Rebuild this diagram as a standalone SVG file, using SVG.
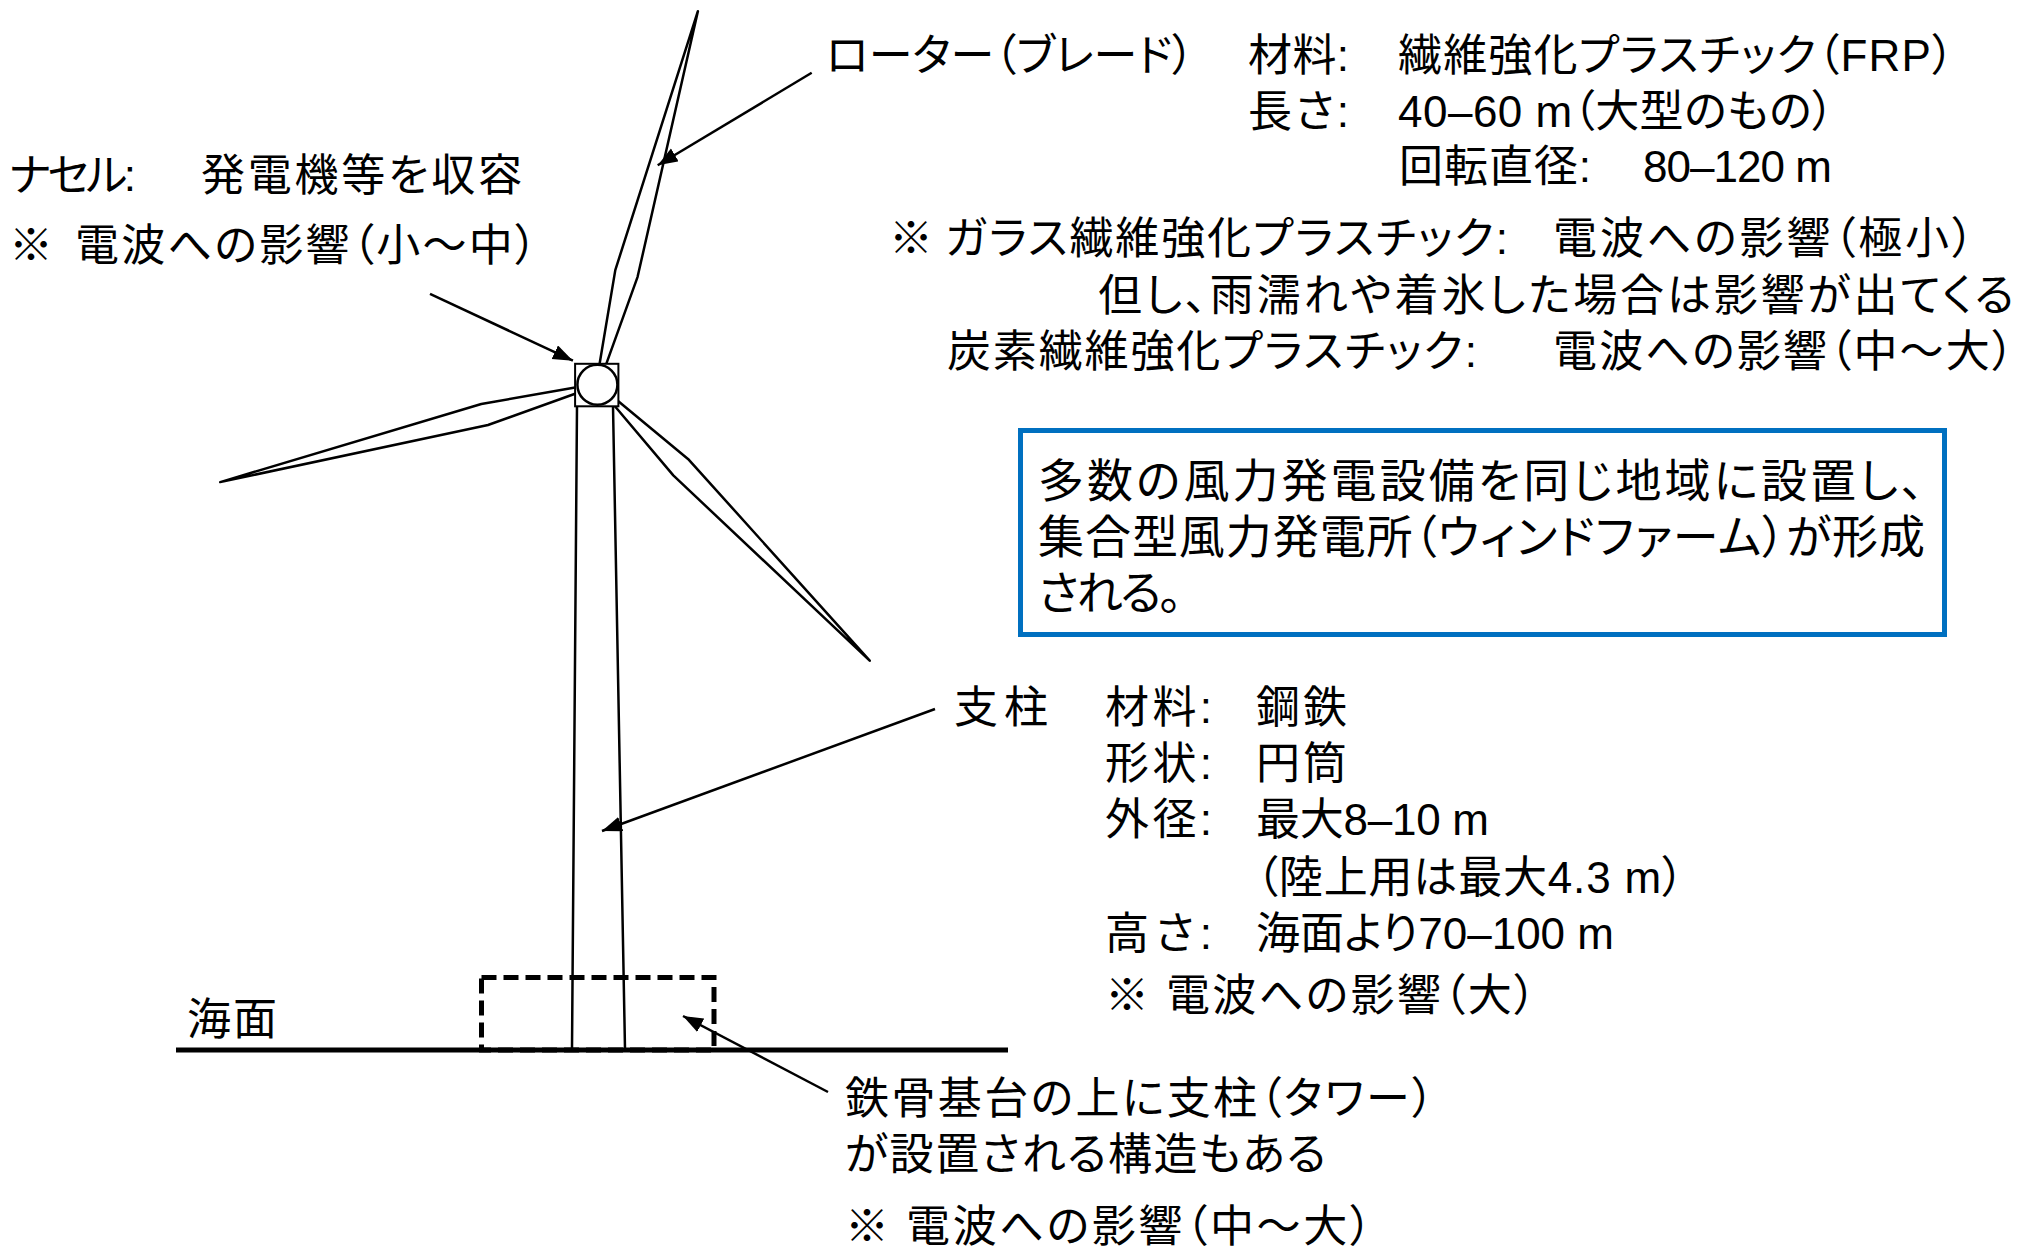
<svg xmlns="http://www.w3.org/2000/svg" width="2037" height="1254" viewBox="0 0 2037 1254">
  <defs>
    <style>
      .t { font-family: 'Liberation Sans', 'Noto Sans CJK JP', sans-serif; font-size: 44px; fill: #000; font-feature-settings: "palt"; }
      .tb { font-size: 46px; }
      .ln { fill: none; stroke: #000; stroke-width: 2.5; stroke-linejoin: round; }
      .arr { fill: none; stroke: #000; stroke-width: 2.5; marker-end: url(#head); }
    </style>
    <marker id="head" markerUnits="userSpaceOnUse" markerWidth="22" markerHeight="16" refX="20" refY="7.5" orient="auto">
      <path d="M0,0 L20,7.5 L0,15 Z" fill="#000"/>
    </marker>
  </defs>

  <rect width="2037" height="1254" fill="#fff"/>

  <!-- wind turbine -->
  <g id="turbine">
    <g id="tower">
      <path class="ln" d="M577,406 L572,1049 M613,406 L625,1049"/>
    </g>
    <g id="blades">
      <path class="ln" d="M599.6,363.8 L615.3,270.1 L697.9,11.2 L637.6,276.8 L606.3,363.8"/>
      <path class="ln" d="M575.1,387.5 L481.3,404 L220.2,482.1 L488,425 L575.1,393.8"/>
      <path class="ln" d="M615.3,398.7 L688.9,459.8 L869.7,660.7 L673.3,475.4 L613,404"/>
    </g>
    <g id="nacelle">
      <rect x="575.1" y="363.8" width="43.3" height="42.5" fill="#fff" stroke="#000" stroke-width="2"/>
      <circle cx="597.4" cy="384.8" r="20" fill="#fff" stroke="#000" stroke-width="2.5"/>
    </g>
  </g>

  <!-- steel foundation and sea surface -->
  <g id="foundation">
    <rect x="481.5" y="977.5" width="232.5" height="72.5" fill="none" stroke="#000" stroke-width="5" stroke-dasharray="15 7"/>
  </g>
  <g id="sea">
    <line x1="176" y1="1050" x2="1008" y2="1050" stroke="#000" stroke-width="5"/>
    <text class="t" x="187" y="1035" textLength="90">海面</text>
  </g>

  <!-- leader arrows -->
  <g id="connectors">
    <line class="arr" x1="430" y1="293.8" x2="572.9" y2="360.7"/>
    <line class="arr" x1="811.7" y1="72.8" x2="657.7" y2="165.2"/>
    <line class="arr" x1="935" y1="709" x2="602" y2="831"/>
    <line class="arr" x1="828" y1="1092" x2="683" y2="1016"/>
  </g>

  <!-- nacelle note -->
  <g id="nacelle-label">
    <text class="t" x="9" y="191" textLength="127">ナセル:</text>
    <text class="t" x="201" y="191" textLength="321">発電機等を収容</text>
    <text class="t" x="9" y="261">※</text>
    <text class="t" x="75" y="261" textLength="462">電波への影響（小～中）</text>
  </g>

  <!-- rotor note -->
  <g id="rotor-label">
    <text class="t" x="826" y="71" textLength="368">ローター（ブレード）</text>
    <text class="t" x="1248" y="71" textLength="101">材料:</text>
    <text class="t" x="1398" y="71" textLength="556">繊維強化プラスチック（FRP）</text>
    <text class="t" x="1248" y="127" textLength="101">長さ:</text>
    <text class="t" x="1398" y="127" textLength="436">40–60 m（大型のもの）</text>
    <text class="t" x="1399" y="182" textLength="192">回転直径:</text>
    <text class="t" x="1643" y="182" textLength="189">80–120 m</text>
    <text class="t" x="889" y="254">※</text>
    <text class="t" x="945" y="254" textLength="563">ガラス繊維強化プラスチック:</text>
    <text class="t" x="1553" y="254" textLength="421">電波への影響（極小）</text>
    <text class="t" x="1098" y="311" textLength="916">但し、雨濡れや着氷した場合は影響が出てくる</text>
    <text class="t" x="947" y="367" textLength="530">炭素繊維強化プラスチック:</text>
    <text class="t" x="1553" y="367" textLength="461">電波への影響（中～大）</text>
  </g>

  <!-- wind farm note -->
  <g id="windfarm-box">
    <rect x="1020.5" y="430.5" width="924" height="204" fill="#fff" stroke="#0070C0" stroke-width="5"/>
    <text class="t tb" x="1038" y="497" textLength="886">多数の風力発電設備を同じ地域に設置し、</text>
    <text class="t tb" x="1038" y="553" textLength="887">集合型風力発電所（ウィンドファーム）が形成</text>
    <text class="t tb" x="1038" y="609" textLength="144">される。</text>
  </g>

  <!-- tower note -->
  <g id="tower-label">
    <text class="t" x="954" y="723" textLength="94">支柱</text>
    <text class="t" x="1105" y="723" textLength="107">材料:</text>
    <text class="t" x="1256" y="723" textLength="91">鋼鉄</text>
    <text class="t" x="1105" y="779" textLength="107">形状:</text>
    <text class="t" x="1256" y="779" textLength="91">円筒</text>
    <text class="t" x="1105" y="835" textLength="107">外径:</text>
    <text class="t" x="1256" y="835" textLength="233">最大8–10 m</text>
    <text class="t" x="1256" y="893" textLength="428">（陸上用は最大4.3 m）</text>
    <text class="t" x="1105" y="949" textLength="107">高さ:</text>
    <text class="t" x="1256" y="949" textLength="358">海面より70–100 m</text>
    <text class="t" x="1105" y="1011">※</text>
    <text class="t" x="1166" y="1011" textLength="370">電波への影響（大）</text>
  </g>

  <!-- foundation note -->
  <g id="foundation-label">
    <text class="t" x="845" y="1114" textLength="589">鉄骨基台の上に支柱（タワー）</text>
    <text class="t" x="845" y="1170" textLength="481">が設置される構造もある</text>
    <text class="t" x="845" y="1242">※</text>
    <text class="t" x="906" y="1242" textLength="466">電波への影響（中～大）</text>
  </g>
</svg>
